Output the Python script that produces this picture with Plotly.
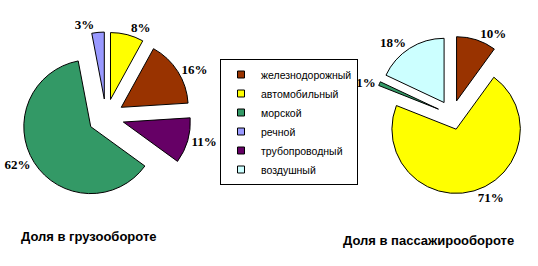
import plotly.graph_objects as go

# Data
legend_labels = ['железнодорожный', 'автомобильный', 'морской', 'речной', 'трубопроводный', 'воздушный']
legend_colors = ['#993300', '#FFFF00', '#339966', '#9999FF', '#660066', '#CCFFFF']

cargo_labels = ['автомобильный', 'железнодорожный', 'трубопроводный', 'морской', 'речной']
cargo_values = [8, 16, 11, 62, 3]

pass_labels = ['железнодорожный', 'автомобильный', 'морской', 'воздушный']
pass_values = [10, 71, 1, 18]

title_cargo = 'Доля в грузообороте'
title_pass = 'Доля в пассажирообороте'

cmap = dict(zip(legend_labels, legend_colors))
W, H = 538, 266

label_font = dict(family='Liberation Serif, Times New Roman, serif', size=13, color='black', weight='bold')

fig = go.Figure()

fig.add_trace(go.Pie(
    labels=cargo_labels, values=cargo_values, sort=False, direction='clockwise', rotation=0,
    marker=dict(colors=[cmap[l] for l in cargo_labels], line=dict(color='#000000', width=1)),
    pull=[0.27] * len(cargo_values),
    texttemplate='%{value}%', textposition='outside', textfont=label_font,
    domain=dict(x=[21 / W, 191 / W], y=[1 - 202 / H, 1 - 32 / H]),
    showlegend=False, hoverinfo='label+value', automargin=False,
))

fig.add_trace(go.Pie(
    labels=pass_labels, values=pass_values, sort=False, direction='clockwise', rotation=0,
    marker=dict(colors=[cmap[l] for l in pass_labels], line=dict(color='#000000', width=1)),
    pull=[0.23] * len(pass_values),
    texttemplate='%{value}%', textposition='outside', textfont=label_font,
    domain=dict(x=[373 / W, 531 / W], y=[1 - 194 / H, 1 - 36 / H]),
    showlegend=False, hoverinfo='label+value', automargin=False,
))

# Legend entries
for lab, col in zip(legend_labels, legend_colors):
    fig.add_trace(go.Scatter(
        x=[None], y=[None], mode='markers', name=lab,
        marker=dict(symbol='square', size=7, color=col, line=dict(color='black', width=1)),
    ))

fig.add_annotation(text=title_cargo, x=88 / W, y=1 - 236 / H, xref='paper', yref='paper',
                   xanchor='center', yanchor='middle', showarrow=False,
                   font=dict(family='Liberation Sans, Arial', size=13, color='black', weight='bold'))
fig.add_annotation(text=title_pass, x=428 / W, y=1 - 240 / H, xref='paper', yref='paper',
                   xanchor='center', yanchor='middle', showarrow=False,
                   font=dict(family='Liberation Sans, Arial', size=13, color='black', weight='bold'))

fig.update_layout(
    width=W, height=H,
    margin=dict(l=0, r=0, t=0, b=0, pad=0, autoexpand=False),
    paper_bgcolor='white', plot_bgcolor='white',
    xaxis=dict(visible=False), yaxis=dict(visible=False),
    legend=dict(x=220 / W, y=1 - 59 / H, xanchor='left', yanchor='top',
                bordercolor='black', borderwidth=1, bgcolor='white',
                font=dict(family='Liberation Sans, Arial', size=10.5, color='black'),
                itemclick=False, itemdoubleclick=False),
)

fig.write_html('out.html')
